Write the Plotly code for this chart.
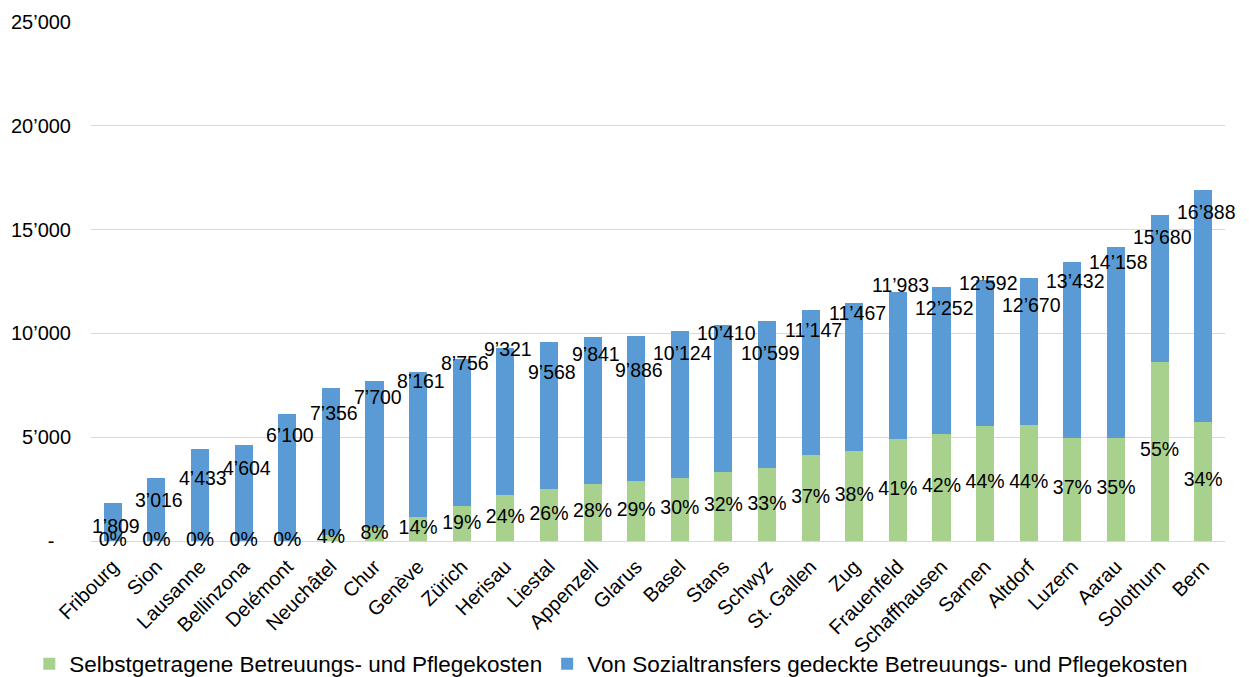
import plotly.graph_objects as go

# ---------------- data ----------------
cities = ["Fribourg", "Sion", "Lausanne", "Bellinzona", "Delémont", "Neuchâtel",
          "Chur", "Genève", "Zürich", "Herisau", "Liestal", "Appenzell", "Glarus",
          "Basel", "Stans", "Schwyz", "St. Gallen", "Zug", "Frauenfeld",
          "Schaffhausen", "Sarnen", "Altdorf", "Luzern", "Aarau", "Solothurn", "Bern"]

totals = [1809, 3016, 4433, 4604, 6100, 7356, 7700, 8161, 8756, 9321, 9568, 9841,
          9886, 10124, 10410, 10599, 11147, 11467, 11983, 12252, 12592, 12670,
          13432, 14158, 15680, 16888]

shares_pct = [0, 0, 0, 0, 0, 4, 8, 14, 19, 24, 26, 28, 29, 30, 32, 33, 37, 38, 41,
              42, 44, 44, 37, 35, 55, 34]

self_paid = [0, 0, 0, 0, 0, 294, 616, 1143, 1664, 2237, 2488, 2755, 2867, 3037,
             3331, 3498, 4124, 4357, 4913, 5146, 5540, 5575, 4970, 4955, 8624, 5742]

social_transfers = [1809, 3016, 4433, 4604, 6100, 7062, 7084, 7018, 7092, 7084,
                    7080, 7086, 7019, 7087, 7079, 7101, 7023, 7110, 7070, 7106,
                    7052, 7095, 8462, 9203, 7056, 11146]

y_tickvals = [0, 5000, 10000, 15000, 20000, 25000]
y_ticktext = ["-\u00a0\u00a0\u00a0", "5’000", "10’000", "15’000", "20’000", "25’000"]

series_names = ["Selbstgetragene Betreuungs- und Pflegekosten",
                "Von Sozialtransfers gedeckte Betreuungs- und Pflegekosten"]

# ---------------- styles / label placement ----------------
GREEN = "#A9D18E"
BLUE = "#5B9BD5"
FONT = "Liberation Sans, Arial, sans-serif"
# vertical pixel offsets of total labels below bar tops (as placed in the reference)
total_label_drop = [23, 22, 29, 23, 21, 25, 16, 9, 4, 1, 30, 17, 34, 22, 8, 32, 20,
                    10, -7, 21, 3, 27, 19, 15, 22, 22]


def fmt(v):
    return f"{v:,}".replace(",", "’")


fig = go.Figure()
fig.add_trace(go.Bar(x=cities, y=self_paid, name=series_names[0],
                     marker=dict(color=GREEN, line=dict(width=0)),
                     hoverinfo="skip"))
fig.add_trace(go.Bar(x=cities, y=social_transfers, name=series_names[1],
                     marker=dict(color=BLUE, line=dict(width=0)),
                     hoverinfo="skip"))

# percentage labels centred in the green segment
fig.add_trace(go.Scatter(x=cities, y=[g / 2 for g in self_paid], mode="text",
                         text=[f"{p}%" for p in shares_pct],
                         textposition="middle center",
                         textfont=dict(family=FONT, size=19.5, color="#000000"),
                         showlegend=False, hoverinfo="skip", cliponaxis=False))

# total labels
for c, t, d in zip(cities, totals, total_label_drop):
    fig.add_annotation(x=c, y=t, text=fmt(t), showarrow=False, xref="x", yref="y",
                       xanchor="center", yanchor="middle", xshift=3, yshift=-d,
                       font=dict(family=FONT, size=19.5, color="#000000"))

# the page body adds an 8px margin, so the figure is sized 8px smaller
fig.update_layout(
    width=1241, height=669,
    margin=dict(l=83, r=24, t=14, b=136, autoexpand=False),
    paper_bgcolor="white", plot_bgcolor="white",
    barmode="stack", bargap=0.585,
    font=dict(family=FONT, color="#000000"),
    legend=dict(orientation="h", xref="paper", yref="paper",
                x=-0.0544, xanchor="left", y=-0.237, yanchor="middle",
                bgcolor="rgba(0,0,0,0)",
                font=dict(family=FONT, size=22.5, color="#000000"),
                traceorder="normal", itemwidth=30),
    showlegend=True,
)
fig.update_xaxes(range=[-0.5, len(cities) - 0.5], automargin=False,
                 tickangle=-45, tickfont=dict(family=FONT, size=20, color="#000000"),
                 showgrid=False, showline=False, ticks="", ticklabelstandoff=9)
fig.update_yaxes(range=[0, 25000], tickvals=y_tickvals, ticktext=y_ticktext,
                 automargin=False,
                 tickfont=dict(family=FONT, size=20, color="#000000"),
                 showgrid=True, gridcolor="#D9D9D9", gridwidth=1,
                 zeroline=True, zerolinecolor="#D9D9D9", zerolinewidth=1,
                 showline=False, ticks="", ticklabelstandoff=19)

fig.write_html("out.html")
